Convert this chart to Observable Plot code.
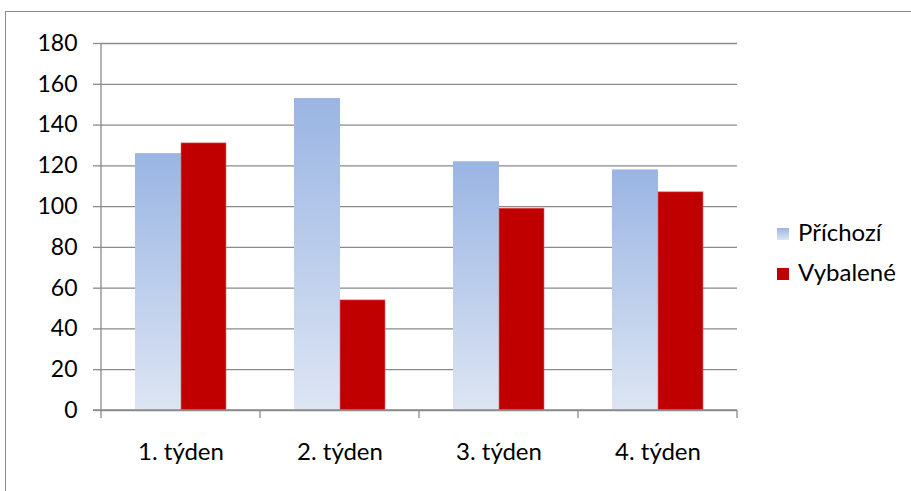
<!DOCTYPE html>
<html>
<head>
<meta charset="utf-8">
<script src="https://cdn.jsdelivr.net/npm/d3@7"></script>
<script src="https://cdn.jsdelivr.net/npm/@observablehq/plot@0.6"></script>
<style>
  html, body { margin: 0; padding: 0; background: #fff; }
  #wrap { position: relative; width: 911px; height: 491px; overflow: hidden; font-family: Lato, "Open Sans", sans-serif; }
  #frame { position: absolute; left: 5px; top: 11px; width: 1200px; height: 1200px; border: 1.5px solid #8c8c8c; box-sizing: border-box; }
  #chart { position: absolute; left: 0; top: 0; }
  .leg { position: absolute; left: 777px; font-size: 24px; color: #000; white-space: nowrap; }
  .leg .sw { position: absolute; left: 0; width: 12px; height: 12px; }
  .leg .lab { position: absolute; left: 21px; line-height: 1; }
</style>
</head>
<body>
<div id="wrap">
  <div id="frame"></div>
  <div id="chart"></div>
  <div id="legend"></div>
</div>
<script>
// ---- data ----
const weeks = ["1. týden", "2. týden", "3. týden", "4. týden"];
const seriesNames = ["Příchozí", "Vybalené"];
const prichozi = [126, 153, 122, 118];
const vybalene = [131, 54, 99, 107];
const yTicks = [0, 20, 40, 60, 80, 100, 120, 140, 160, 180];

const blueRows = weeks.map((w, i) => ({week: w, value: prichozi[i]}));
const redRows = weeks.map((w, i) => ({week: w, value: vybalene[i]}));

const gridColor = "#8a8a8a";

const plot = Plot.plot({
  width: 911,
  height: 491,
  marginLeft: 101,
  marginRight: 174,
  marginTop: 43,
  marginBottom: 81,
  style: {fontFamily: "Lato, 'Open Sans', sans-serif", fontSize: "24px", background: "transparent", color: "#000"},
  x: {domain: weeks, padding: 0},
  y: {domain: [0, 180]},
  marks: [
    Plot.gridY(yTicks, {stroke: gridColor, strokeOpacity: 1, strokeWidth: 1.3}),
    Plot.axisY(yTicks, {tickSize: 8, tickPadding: 16, stroke: gridColor, strokeWidth: 1.3, fill: "#000", fontSize: 23, label: null}),
    Plot.axisX({tickSize: 0, tickPadding: 32, fill: "#000", fontSize: 24, label: null}),
    Plot.barY(blueRows, {x: "week", y: "value", fill: "url(#gradBlue)", insetLeft: 34, insetRight: 79}),
    Plot.barY(redRows, {x: "week", y: "value", fill: "#c00000", stroke: "#e06a6a", strokeWidth: 0.6, insetLeft: 80, insetRight: 34})
  ]
});

document.getElementById("chart").appendChild(plot);

// gradient + axis lines using the plot's own scales
const svg = d3.select(plot);
const defs = svg.insert("defs", ":first-child");
const g = defs.append("linearGradient").attr("id", "gradBlue").attr("x1", 0).attr("y1", 0).attr("x2", 0).attr("y2", 1);
g.append("stop").attr("offset", "0%").attr("stop-color", "#9ab5e3");
g.append("stop").attr("offset", "100%").attr("stop-color", "#dde5f3");

const xs = plot.scale("x");
const ys = plot.scale("y");
const bw = xs.bandwidth;
const bounds = weeks.map(w => xs.apply(w)).concat([xs.apply(weeks[weeks.length - 1]) + bw]);
const y0 = ys.apply(0);
const yTop = ys.apply(yTicks[yTicks.length - 1]);
const axisG = svg.append("g").attr("stroke", gridColor).attr("stroke-width", 1.3);
axisG.append("line").attr("x1", bounds[0]).attr("x2", bounds[0]).attr("y1", yTop).attr("y2", y0 + 8);
bounds.slice(1).forEach(b => axisG.append("line").attr("x1", b).attr("x2", b).attr("y1", y0).attr("y2", y0 + 8));
axisG.append("line").attr("x1", bounds[0] - 8).attr("x2", bounds[bounds.length - 1]).attr("y1", y0).attr("y2", y0);

// legend (HTML, to the right of the plot area)
const legendColors = ["linear-gradient(#9ab5e3, #dde5f3)", "#c00000"];
const legendTops = [220, 260];
const legend = document.getElementById("legend");
seriesNames.forEach((name, i) => {
  const item = document.createElement("div");
  item.className = "leg";
  item.style.top = legendTops[i] + "px";
  item.innerHTML = `<span class="sw" style="top:8px;background:${legendColors[i]}"></span><span class="lab">${name}</span>`;
  legend.appendChild(item);
});
</script>
</body>
</html>
